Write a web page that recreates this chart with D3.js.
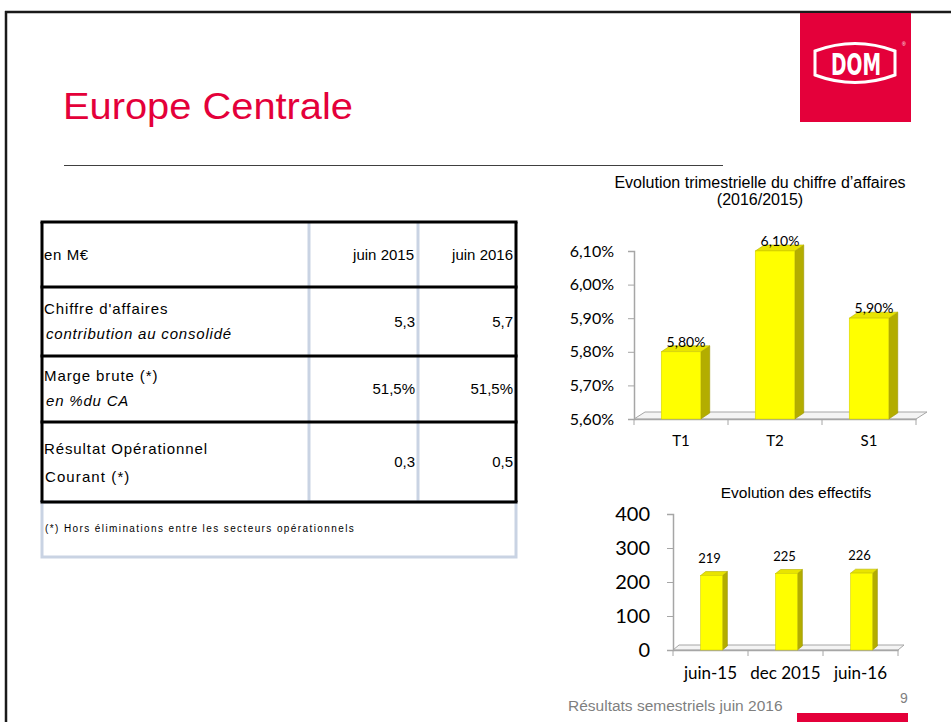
<!DOCTYPE html>
<html>
<head>
<meta charset="utf-8">
<script src="https://cdn.jsdelivr.net/npm/d3@7"></script>
<style>
  body { margin: 0; background: #fff; }
  svg { display: block; }
</style>
</head>
<body>
<div id="slide"></div>
<script>
// chart data
var quarterCats = ["T1", "T2", "S1"];
var quarterGrowth = [5.8, 6.1, 5.9];
var growthTicks = [5.6, 5.7, 5.8, 5.9, 6.0, 6.1];

var staffCats = ["juin-15", "dec 2015", "juin-16"];
var staffCounts = [219, 225, 226];
var staffTicks = [0, 100, 200, 300, 400];

// table data
var tableHeader = ["en M€", "juin 2015", "juin 2016"];
var rowLabels = ["Chiffre d'affaires", "Marge brute (*)", "Résultat Opérationnel"];
var rowSubLabels = ["contribution au consolidé", "en %du CA", "Courant (*)"];
var col2015 = ["5,3", "51,5%", "0,3"];
var col2016 = ["5,7", "51,5%", "0,5"];
var footnote = "(*) Hors éliminations entre les secteurs opérationnels";

var fr = d3.formatLocale({ decimal: ",", thousands: " ", grouping: [3], currency: ["", " €"] });
var pct = function (v) { return fr.format(".2f")(v) + "%"; };

var svgWidth = 951, svgHeight = 722;
var red = "#e4003a";

var svg = d3.select("#slide").append("svg")
    .attr("width", svgWidth)
    .attr("height", svgHeight);

// slide frame
svg.append("line").attr("x1", 5).attr("x2", svgWidth).attr("y1", 12).attr("y2", 12)
    .attr("stroke", "#1a1a1a").attr("stroke-width", 2.5);
svg.append("line").attr("x1", 6).attr("x2", 6).attr("y1", 11).attr("y2", svgHeight)
    .attr("stroke", "#1a1a1a").attr("stroke-width", 2.5);

// logo
svg.append("rect").attr("x", 800).attr("y", 13).attr("width", 111).attr("height", 109).attr("fill", red);
svg.append("path")
    .attr("d", "M815,51 Q855,36 895,51 L895,75 Q855,90 815,75 Z")
    .attr("fill", "none").attr("stroke", "#fff").attr("stroke-width", 3);
svg.append("text").attr("x", 856).attr("y", 75)
    .attr("text-anchor", "middle")
    .attr("textLength", 50).attr("lengthAdjust", "spacingAndGlyphs")
    .style("font-family", "DejaVu Sans Condensed, DejaVu Sans")
    .style("font-weight", "bold").style("font-size", "30px")
    .attr("fill", "#fff").text("DOM");
svg.append("text").attr("x", 902).attr("y", 46)
    .style("font-family", "Liberation Sans").style("font-size", "5px")
    .attr("fill", "#fff").text("®");

// title
svg.append("text").attr("x", 63).attr("y", 119)
    .attr("textLength", 290).attr("lengthAdjust", "spacingAndGlyphs")
    .style("font-family", "Liberation Sans, Arial").style("font-size", "37px")
    .attr("fill", red).text("Europe Centrale");
svg.append("line").attr("x1", 64).attr("x2", 723).attr("y1", 165.5).attr("y2", 165.5)
    .attr("stroke", "#404040").attr("stroke-width", 1);

// ---------- table ----------
var tbl = svg.append("g");
var tLeft = 42, tRight = 516;
var colX = [309, 418];
var rowY = [222, 287, 356, 422, 502];
var noteBottom = 557;
var pale = "#c9d3e3";

tbl.append("rect").attr("x", tLeft).attr("y", rowY[4]).attr("width", tRight - tLeft).attr("height", noteBottom - rowY[4])
    .attr("fill", "none").attr("stroke", pale).attr("stroke-width", 3);
colX.forEach(function (x) {
    tbl.append("line").attr("x1", x).attr("x2", x).attr("y1", rowY[0]).attr("y2", rowY[4])
        .attr("stroke", pale).attr("stroke-width", 3);
});
rowY.forEach(function (y) {
    tbl.append("line").attr("x1", tLeft - 1.5).attr("x2", tRight + 1.5).attr("y1", y).attr("y2", y)
        .attr("stroke", "#000").attr("stroke-width", 3);
});
[tLeft, tRight].forEach(function (x) {
    tbl.append("line").attr("x1", x).attr("x2", x).attr("y1", rowY[0]).attr("y2", rowY[4])
        .attr("stroke", "#000").attr("stroke-width", 3);
});

var cellFont = function (sel, spacing) {
    return sel.style("font-family", "Liberation Sans, Arial").style("font-size", "15px")
        .style("letter-spacing", (spacing || 0) + "px").attr("fill", "#000");
};
cellFont(tbl.append("text").attr("x", tLeft + 2).attr("y", 260), 0.6).text(tableHeader[0]);
cellFont(tbl.append("text").attr("x", 414).attr("y", 260).attr("text-anchor", "end")).text(tableHeader[1]);
cellFont(tbl.append("text").attr("x", 513).attr("y", 260).attr("text-anchor", "end")).text(tableHeader[2]);

rowLabels.forEach(function (lab, i) {
    var top = rowY[i + 1], bot = rowY[i + 2];
    var mid = (top + bot) / 2;
    cellFont(tbl.append("text").attr("x", tLeft + 2).attr("y", mid - 8), 0.9).text(lab);
    var sub = cellFont(tbl.append("text").attr("x", tLeft + 4).attr("y", mid + 17), 0.8).text(rowSubLabels[i]);
    if (i < 2) sub.style("font-style", "italic");
    else sub.attr("x", tLeft + 3).attr("y", mid + 20).style("letter-spacing", "1.1px");
    cellFont(tbl.append("text").attr("x", 415).attr("y", mid + 5).attr("text-anchor", "end")).text(col2015[i]);
    cellFont(tbl.append("text").attr("x", 513).attr("y", mid + 5).attr("text-anchor", "end")).text(col2016[i]);
});

tbl.append("text").attr("x", tLeft + 3).attr("y", 532)
    .style("font-family", "Liberation Sans, Arial").style("font-size", "10px")
    .style("letter-spacing", "1.4px").attr("fill", "#000").text(footnote);

// ---------- 3D bar helper ----------
function bar3d(g, x, y, w, base, dx, dy) {
    // side face
    g.append("path")
        .attr("d", "M" + (x + w) + "," + y + "L" + (x + w + dx) + "," + (y - dy) +
            "L" + (x + w + dx) + "," + (base - dy) + "L" + (x + w) + "," + base + "Z")
        .attr("fill", "#b3ad00").attr("stroke", "#9c9600").attr("stroke-width", 0.6);
    // top face
    g.append("path")
        .attr("d", "M" + x + "," + y + "L" + (x + dx) + "," + (y - dy) +
            "L" + (x + w + dx) + "," + (y - dy) + "L" + (x + w) + "," + y + "Z")
        .attr("fill", "#e8e400").attr("stroke", "#b5b000").attr("stroke-width", 0.6);
    // front face
    g.append("rect").attr("x", x).attr("y", y).attr("width", w).attr("height", base - y)
        .attr("fill", "#ffff00").attr("stroke", "#d6d200").attr("stroke-width", 0.6);
}

function floor3d(g, x0, x1, base, dx, dy) {
    g.append("path")
        .attr("d", "M" + x0 + "," + base + "L" + (x0 + dx) + "," + (base - dy) +
            "L" + (x1 + dx) + "," + (base - dy) + "L" + x1 + "," + base + "Z")
        .attr("fill", "#f4f4f4").attr("stroke", "#a6a6a6").attr("stroke-width", 1);
}

// ---------- chart 1: quarterly growth ----------
var c1 = svg.append("g");
var y1 = d3.scaleLinear().domain([5.6, 6.1]).range([419, 251]);
var x1 = d3.scaleBand().domain(quarterCats).range([634, 916]);

c1.append("text").attr("x", 760).attr("y", 188).attr("text-anchor", "middle")
    .style("font-family", "Liberation Sans Narrow, Liberation Sans").style("font-size", "16px")
    .attr("fill", "#000").text("Evolution trimestrielle du chiffre d\u2019affaires");
c1.append("text").attr("x", 760).attr("y", 205).attr("text-anchor", "middle")
    .style("font-family", "Liberation Sans Narrow, Liberation Sans").style("font-size", "16px")
    .attr("fill", "#000").text("(2016/2015)");

floor3d(c1, 634, 916, 419, 11, 7);

c1.append("g")
    .attr("transform", "translate(634,0)")
    .call(d3.axisLeft(y1).tickValues(growthTicks).tickFormat(pct).tickSize(6).tickPadding(14))
    .call(function (g) {
        g.select(".domain").attr("stroke", "#a6a6a6").attr("stroke-width", 1.5);
        g.selectAll(".tick line").attr("stroke", "#a6a6a6");
        g.selectAll(".tick text").style("font-family", "Lato, Open Sans").style("font-size", "16px").attr("fill", "#000");
    });

c1.append("g")
    .attr("transform", "translate(0,419)")
    .call(d3.axisBottom(x1).tickSize(0).tickPadding(16))
    .call(function (g) {
        g.select(".domain").attr("stroke", "#a6a6a6").attr("stroke-width", 1.5);
        g.selectAll(".tick text").style("font-family", "Lato, Open Sans").style("font-size", "15px").attr("fill", "#000");
    });
c1.selectAll(".xtick").data([634].concat(quarterCats.map(function (d) { return x1(d) + x1.bandwidth(); })))
    .enter().append("line").attr("class", "xtick")
    .attr("x1", function (d) { return d; }).attr("x2", function (d) { return d; })
    .attr("y1", 419).attr("y2", 425).attr("stroke", "#a6a6a6");

var bw1 = x1.bandwidth() * 0.42;
quarterCats.forEach(function (c, i) {
    var cx = x1(c) + x1.bandwidth() / 2;
    bar3d(c1, cx - bw1 / 2, y1(quarterGrowth[i]), bw1, 419, 9, 6);
    c1.append("text").attr("x", cx + 5).attr("y", y1(quarterGrowth[i]) - 5)
        .attr("text-anchor", "middle")
        .style("font-family", "Lato, Open Sans").style("font-size", "14px")
        .attr("fill", "#000").text(pct(quarterGrowth[i]));
});

// ---------- chart 2: headcount ----------
var c2 = svg.append("g");
var y2 = d3.scaleLinear().domain([0, 400]).range([650, 514]);
var x2 = d3.scaleBand().domain(staffCats).range([673, 898]);

c2.append("text").attr("x", 796).attr("y", 498).attr("text-anchor", "middle")
    .style("font-family", "Liberation Sans, Arial").style("font-size", "15.5px")
    .attr("fill", "#000").text("Evolution des effectifs");

floor3d(c2, 673, 898, 650, 6, 5);

c2.append("g")
    .attr("transform", "translate(673,0)")
    .call(d3.axisLeft(y2).tickValues(staffTicks).tickSize(6).tickPadding(17))
    .call(function (g) {
        g.select(".domain").attr("stroke", "#a6a6a6").attr("stroke-width", 1.5);
        g.selectAll(".tick line").attr("stroke", "#a6a6a6");
        g.selectAll(".tick text").style("font-family", "Lato, Open Sans").style("font-size", "20px").attr("fill", "#000");
    });

c2.append("g")
    .attr("transform", "translate(0,650)")
    .call(d3.axisBottom(x2).tickSize(0).tickPadding(17))
    .call(function (g) {
        g.select(".domain").attr("stroke", "#a6a6a6").attr("stroke-width", 1.5);
        g.selectAll(".tick text").style("font-family", "Lato, Open Sans").style("font-size", "17px").attr("fill", "#000");
    });
c2.selectAll(".xtick").data([673].concat(staffCats.map(function (d) { return x2(d) + x2.bandwidth(); })))
    .enter().append("line").attr("class", "xtick")
    .attr("x1", function (d) { return d; }).attr("x2", function (d) { return d; })
    .attr("y1", 650).attr("y2", 656).attr("stroke", "#a6a6a6");

var bw2 = x2.bandwidth() * 0.29;
staffCats.forEach(function (c, i) {
    var cx = x2(c) + x2.bandwidth() / 2 + 1;
    bar3d(c2, cx - bw2 / 2, y2(staffCounts[i]), bw2, 650, 5, 4);
    c2.append("text").attr("x", cx - 2).attr("y", y2(staffCounts[i]) - 13)
        .attr("text-anchor", "middle")
        .style("font-family", "Lato, Open Sans").style("font-size", "13px")
        .attr("fill", "#000").text(staffCounts[i]);
});

// footer
svg.append("text").attr("x", 568).attr("y", 711)
    .style("font-family", "Liberation Sans, Arial").style("font-size", "15.5px")
    .attr("fill", "#7f7f7f").text("Résultats semestriels juin 2016");
svg.append("text").attr("x", 900).attr("y", 703)
    .style("font-family", "Liberation Sans, Arial").style("font-size", "14px")
    .attr("fill", "#7f7f7f").text("9");
svg.append("rect").attr("x", 797).attr("y", 713).attr("width", 111).attr("height", 9).attr("fill", red);
</script>
</body>
</html>
